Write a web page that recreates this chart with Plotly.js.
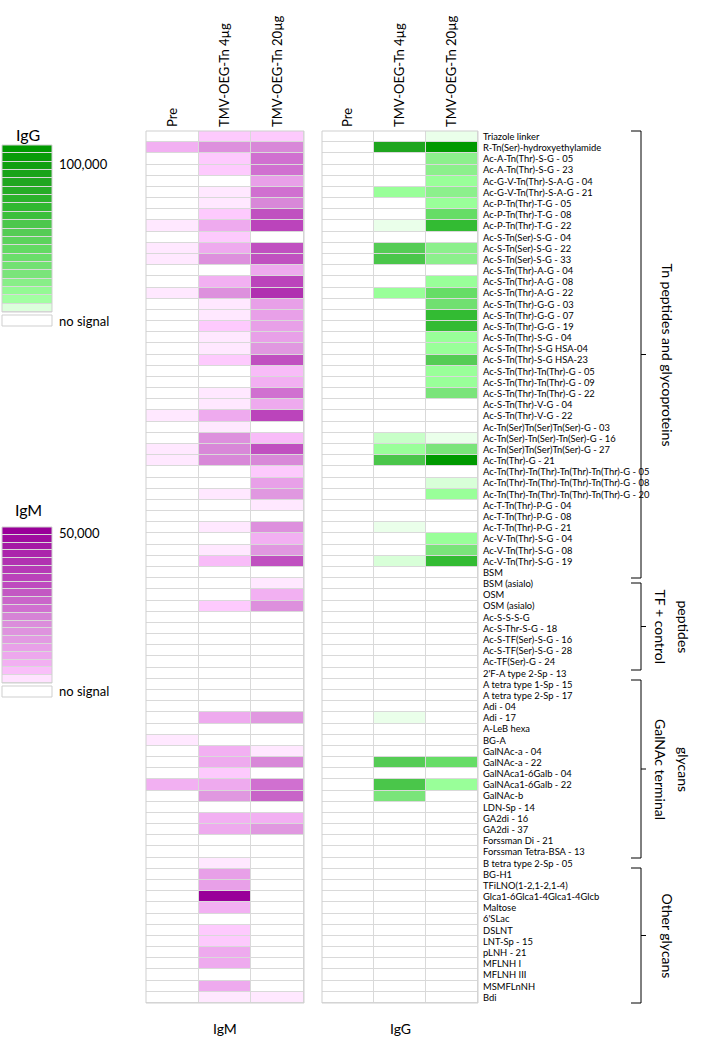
<!DOCTYPE html>
<html>
<head>
<meta charset="utf-8">
<script src="https://cdn.plot.ly/plotly-3.0.1.min.js"></script>
<style>html,body{margin:0;padding:0;background:#fff;}#chart{width:719px;height:1042px;}</style>
</head>
<body>
<div id="chart"></div>
<script>
const rows = [
"Triazole linker","R-Tn(Ser)-hydroxyethylamide","Ac-A-Tn(Thr)-S-G - 05","Ac-A-Tn(Thr)-S-G - 23",
"Ac-G-V-Tn(Thr)-S-A-G - 04","Ac-G-V-Tn(Thr)-S-A-G - 21","Ac-P-Tn(Thr)-T-G - 05","Ac-P-Tn(Thr)-T-G - 08",
"Ac-P-Tn(Thr)-T-G - 22","Ac-S-Tn(Ser)-S-G - 04","Ac-S-Tn(Ser)-S-G - 22","Ac-S-Tn(Ser)-S-G - 33",
"Ac-S-Tn(Thr)-A-G - 04","Ac-S-Tn(Thr)-A-G - 08","Ac-S-Tn(Thr)-A-G - 22","Ac-S-Tn(Thr)-G-G - 03",
"Ac-S-Tn(Thr)-G-G - 07","Ac-S-Tn(Thr)-G-G - 19","Ac-S-Tn(Thr)-S-G - 04","Ac-S-Tn(Thr)-S-G HSA-04",
"Ac-S-Tn(Thr)-S-G HSA-23","Ac-S-Tn(Thr)-Tn(Thr)-G - 05","Ac-S-Tn(Thr)-Tn(Thr)-G - 09","Ac-S-Tn(Thr)-Tn(Thr)-G - 22",
"Ac-S-Tn(Thr)-V-G - 04","Ac-S-Tn(Thr)-V-G - 22","Ac-Tn(Ser)Tn(Ser)Tn(Ser)-G - 03","Ac-Tn(Ser)-Tn(Ser)-Tn(Ser)-G - 16",
"Ac-Tn(Ser)Tn(Ser)Tn(Ser)-G - 27","Ac-Tn(Thr)-G - 21","Ac-Tn(Thr)-Tn(Thr)-Tn(Thr)-Tn(Thr)-G - 05","Ac-Tn(Thr)-Tn(Thr)-Tn(Thr)-Tn(Thr)-G - 08",
"Ac-Tn(Thr)-Tn(Thr)-Tn(Thr)-Tn(Thr)-G - 20","Ac-T-Tn(Thr)-P-G - 04","Ac-T-Tn(Thr)-P-G - 08","Ac-T-Tn(Thr)-P-G - 21",
"Ac-V-Tn(Thr)-S-G - 04","Ac-V-Tn(Thr)-S-G - 08","Ac-V-Tn(Thr)-S-G - 19","BSM",
"BSM (asialo)","OSM","OSM (asialo)","Ac-S-S-S-G",
"Ac-S-Thr-S-G - 18","Ac-S-TF(Ser)-S-G - 16","Ac-S-TF(Ser)-S-G - 28","Ac-TF(Ser)-G - 24",
"2'F-A type 2-Sp - 13","A tetra type 1-Sp - 15","A tetra type 2-Sp - 17","Adi - 04",
"Adi - 17","A-LeB hexa","BG-A","GalNAc-a - 04",
"GalNAc-a - 22","GalNAca1-6Galb - 04","GalNAca1-6Galb - 22","GalNAc-b",
"LDN-Sp - 14","GA2di - 16","GA2di - 37","Forssman Di - 21",
"Forssman Tetra-BSA - 13","B tetra type 2-Sp - 05","BG-H1","TFiLNO(1-2,1-2,1-4)",
"Glca1-6Glca1-4Glca1-4Glcb","Maltose","6'SLac","DSLNT",
"LNT-Sp - 15","pLNH - 21","MFLNH I","MFLNH III",
"MSMFLnNH","Bdi"
];
const conditions = ["Pre","TMV-OEG-Tn 4µg","TMV-OEG-Tn 20µg"];

// IgM signal (0 - 50,000)
const igmPre = [0,15000,0,0,0,0,0,0,5000,0,5000,5000,0,0,5000,0,0,0,0,0,0,0,0,0,0,5000,0,0,5000,5000,0,0,0,0,0,0,0,0,0,0,0,0,0,0,0,0,0,0,0,0,0,0,0,0,5000,0,0,0,15000,0,0,0,0,0,0,0,0,0,0,0,0,0,0,0,0,0,0,0];
const igm4 = [10000,25000,10000,10000,0,5000,5000,10000,17500,10000,17500,25000,0,15000,25000,5000,5000,10000,5000,5000,10000,0,0,5000,5000,17500,5000,25000,27500,27500,0,0,5000,0,0,5000,0,5000,12500,0,0,0,10000,0,0,0,0,0,0,0,0,0,17500,0,0,15000,17500,10000,17500,22500,0,15000,17500,0,0,5000,20000,20000,50000,15000,0,10000,10000,17500,17500,0,17500,5000];
const igm20 = [10000,27500,30000,30000,20000,30000,27500,35000,37500,0,35000,35000,17500,37500,42500,20000,20000,20000,20000,22500,35000,12500,15000,30000,17500,37500,0,12500,35000,27500,10000,20000,22500,5000,0,25000,15000,22500,35000,0,5000,15000,25000,0,0,0,0,0,0,0,0,0,22500,0,0,5000,27500,0,30000,32500,0,15000,22500,0,0,0,0,0,0,0,0,0,0,0,0,0,0,5000];

// IgG signal (0 - 100,000)
const iggPre = [0,0,0,0,0,0,0,0,0,0,0,0,0,0,0,0,0,0,0,0,0,0,0,0,0,0,0,0,0,0,0,0,0,0,0,0,0,0,0,0,0,0,0,0,0,0,0,0,0,0,0,0,0,0,0,0,0,0,0,0,0,0,0,0,0,0,0,0,0,0,0,0,0,0,0,0,0,0];
const igg4 = [0,85000,0,0,0,30000,0,0,10000,0,60000,65000,0,0,30000,0,0,0,0,0,0,0,0,0,0,0,0,20000,30000,65000,0,0,0,0,0,10000,0,0,15000,0,0,0,0,0,0,0,0,0,0,0,0,0,10000,0,0,0,60000,0,65000,40000,0,0,0,0,0,0,0,0,0,0,0,0,0,0,0,0,0,0];
const igg20 = [10000,100000,35000,35000,30000,35000,30000,50000,70000,0,35000,35000,0,30000,50000,45000,70000,70000,30000,30000,60000,30000,30000,40000,0,0,0,10000,40000,100000,0,15000,30000,0,0,0,30000,40000,70000,0,0,0,0,0,0,0,0,0,0,0,0,0,0,0,0,0,50000,0,30000,0,0,0,0,0,0,0,0,0,0,0,0,0,0,0,0,0,0,0];

// legend steps (top to bottom)
const legendIgG = [100000,96000,92000,88000,84000,80000,76000,72000,68000,64000,60000,56000,52000,48000,44000,40000,36000,32000,28000,14000];
const legendIgM = [50000,48000,46000,44000,42000,40000,38000,36000,34000,32000,30000,28000,26000,24000,22000,20000,18000,15000,12000,6000];

const groups = [
  {lines:["Tn peptides and glycoproteins"], top:131, bottom:578},
  {lines:["TF + control","peptides"], top:583, bottom:670},
  {lines:["GalNAc terminal","glycans"], top:680, bottom:858},
  {lines:["Other glycans"], top:868, bottom:1003}
];

const W = 719, H = 1042;
const X = p => p / W;
const Y = p => 1 - p / H;

const scaleIgM = [[0,'#ffffff'],[0.04,'#ffffff'],[0.1,'#ffe8ff'],[0.2,'#fdcafd'],[0.25,'#f8bcf8'],[0.3,'#f2b0f2'],[0.35,'#eeaaee'],[0.4,'#e8a0e8'],[0.45,'#e098e0'],[0.5,'#dd90dd'],[0.55,'#d888d8'],[0.6,'#d070d0'],[0.65,'#c864c8'],[0.7,'#c050c0'],[0.75,'#bb44bb'],[0.85,'#b030b0'],[1,'#990099']];
const scaleIgG = [[0,'#ffffff'],[0.04,'#ffffff'],[0.1,'#eaffea'],[0.15,'#d8ffd8'],[0.2,'#c8ffc8'],[0.3,'#99ff99'],[0.35,'#8cf08c'],[0.4,'#7ae47a'],[0.45,'#70e070'],[0.5,'#66dd66'],[0.6,'#55cc55'],[0.65,'#4ac64a'],[0.7,'#33bb33'],[0.85,'#1fa51f'],[1,'#009900']];

function transpose(cols){ return rows.map((r,i)=>cols.map(c=>c[i])); }

const common = {type:'heatmap', showscale:false, xgap:1, ygap:1, hoverinfo:'skip'};
const traces = [
  Object.assign({}, common, {x:conditions, y:rows, z:transpose([igmPre,igm4,igm20]), colorscale:scaleIgM, zmin:0, zmax:50000, xaxis:'x', yaxis:'y'}),
  Object.assign({}, common, {x:conditions, y:rows, z:transpose([iggPre,igg4,igg20]), colorscale:scaleIgG, zmin:0, zmax:100000, xaxis:'x2', yaxis:'y2'}),
  Object.assign({}, common, {xgap:0, x:['IgG'], y:legendIgG.map((v,i)=>i), z:legendIgG.map(v=>[v]), colorscale:scaleIgG, zmin:0, zmax:100000, xaxis:'x3', yaxis:'y3'}),
  Object.assign({}, common, {xgap:0, x:['IgM'], y:legendIgM.map((v,i)=>i), z:legendIgM.map(v=>[v]), colorscale:scaleIgM, zmin:0, zmax:50000, xaxis:'x4', yaxis:'y4'})
];

const FONT = 'Lato, "Open Sans", sans-serif';
const gridTop = 131, gridBot = 1003;
const hidden = {showticklabels:false, showgrid:false, zeroline:false, showline:false, ticks:'', fixedrange:true};

const layout = {
  width:W, height:H, margin:{l:0,r:0,t:0,b:0},
  paper_bgcolor:'#ffffff', plot_bgcolor:'#d9d9d9',
  font:{family:FONT, color:'#000'},
  xaxis:{domain:[X(146),X(304)], anchor:'y', side:'top', type:'category', tickangle:-90, ticks:'', showgrid:false, zeroline:false, showline:false, tickfont:{family:FONT,size:13,color:'#000'}, ticklabelstandoff:3, fixedrange:true},
  yaxis:Object.assign({domain:[Y(gridBot),Y(gridTop)], anchor:'x', type:'category', autorange:'reversed'}, hidden),
  xaxis2:{domain:[X(322),X(478)], anchor:'y2', side:'top', type:'category', tickangle:-90, ticks:'', showgrid:false, zeroline:false, showline:false, tickfont:{family:FONT,size:13,color:'#000'}, ticklabelstandoff:3, fixedrange:true},
  yaxis2:{domain:[Y(gridBot),Y(gridTop)], anchor:'x2', side:'right', type:'category', autorange:'reversed', tickmode:'array', tickvals:rows, ticktext:rows, ticks:'', showgrid:false, zeroline:false, showline:false, tickfont:{family:FONT,size:9.4,color:'#000'}, ticklabelstandoff:4, fixedrange:true},
  xaxis3:Object.assign({domain:[X(2),X(52)], anchor:'y3'}, hidden),
  yaxis3:Object.assign({domain:[Y(312),Y(145)], anchor:'x3', autorange:'reversed'}, hidden),
  xaxis4:Object.assign({domain:[X(2),X(52)], anchor:'y4'}, hidden),
  yaxis4:Object.assign({domain:[Y(683),Y(527)], anchor:'x4', autorange:'reversed'}, hidden),
  shapes:[], annotations:[]
};

// borders around heatmaps and legend boxes
[[146,304,gridTop,gridBot],[322,478,gridTop,gridBot],[2,52,145,312],[2,52,527,683],[2,52,315,326],[2,52,686,697]].forEach(b=>{
  layout.shapes.push({type:'rect', xref:'paper', yref:'paper', x0:X(b[0]), x1:X(b[1]), y0:Y(b[3]), y1:Y(b[2]), line:{color:'#cfcfcf', width:1}, fillcolor:'rgba(0,0,0,0)', layer:'above'});
});

// brackets
groups.forEach(g=>{
  const mid = (g.top+g.bottom)/2;
  const p = `M ${X(631)},${Y(g.top)} L ${X(641)},${Y(g.top)} L ${X(641)},${Y(g.bottom)} L ${X(631)},${Y(g.bottom)} M ${X(641)},${Y(mid)} L ${X(646)},${Y(mid)}`;
  layout.shapes.push({type:'path', xref:'paper', yref:'paper', path:p, line:{color:'#000', width:1}});
  const xs = g.lines.length === 1 ? [667] : [660, 683];
  g.lines.forEach((t,i)=>{
    layout.annotations.push({xref:'paper', yref:'paper', x:X(xs[i]), y:Y(mid), text:t, showarrow:false, textangle:90, xanchor:'center', yanchor:'middle', font:{family:FONT, size:14, color:'#000'}});
  });
});

const ann = (x,y,t,size,xa)=>layout.annotations.push({xref:'paper', yref:'paper', x:X(x), y:Y(y), text:t, showarrow:false, xanchor:xa||'center', yanchor:'middle', font:{family:FONT, size:size, color:'#000'}});
ann(28,134,'IgG',16);
ann(57,164,'100,000',13,'left');
ann(57,321,'no signal',13,'left');
ann(29,509,'IgM',16);
ann(57,533,'50,000',13,'left');
ann(57,691,'no signal',13,'left');
ann(225,1028,'IgM',14);
ann(400,1028,'IgG',14);

Plotly.newPlot('chart', traces, layout, {displayModeBar:false, staticPlot:true});
</script>
</body>
</html>
